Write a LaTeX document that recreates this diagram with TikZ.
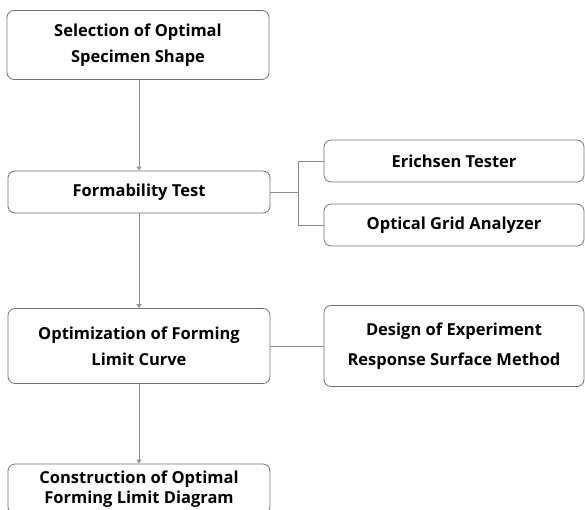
\documentclass[tikz,border=0pt]{standalone}
\usepackage{fontspec}
\setmainfont{Open Sans}
\usetikzlibrary{arrows.meta}
\begin{document}
\begin{tikzpicture}[x=1pt,y=-1pt,
  box/.style={draw=black!55, line width=0.8pt, rounded corners=7pt, inner sep=0pt,
    font=\fontsize{16.5}{26}\selectfont\bfseries, align=center, text=black},
  conn/.style={draw=black!45, line width=0.9pt},
  arr/.style={conn, -{Triangle[width=5pt,length=4pt,fill=black!20]}}]
\useasboundingbox (0,0) rectangle (585,510);
\node[box, minimum width=262pt, minimum height=69pt] (sel) at (138,45) {Selection of Optimal\\Specimen Shape};
\node[box, minimum width=262pt, minimum height=42pt] (form) at (139,192) {Formability Test};
\node[box, minimum width=260pt, minimum height=42pt] (eri) at (454,161) {Erichsen Tester};
\node[box, minimum width=260pt, minimum height=42pt] (opt) at (454,225) {Optical Grid Analyzer};
\node[box, minimum width=262pt, minimum height=75pt] (flc) at (139,346) {Optimization of Forming\\Limit Curve};
\node[box, minimum width=260pt, minimum height=81pt] (doe) at (454,346) {Design of Experiment\\[4pt]Response Surface Method};
\node[box, minimum width=262pt, minimum height=50pt, font=\fontsize{16.5}{20.5}\selectfont\bfseries] (fld) at (139,489) {Construction of Optimal\\Forming Limit Diagram};
\coordinate (j) at (298,192);
\draw[arr] (sel.south -| form.north) -- (form.north);
\draw[arr] (form.south) -- (flc.north);
\draw[arr] (flc.south) -- (fld.north);
\draw[conn] (form.east) -- (j);
\draw[conn] (j) |- (eri.west);
\draw[conn] (j) |- (opt.west);
\draw[conn] (flc.east) -- (doe.west);
\end{tikzpicture}
\end{document}
